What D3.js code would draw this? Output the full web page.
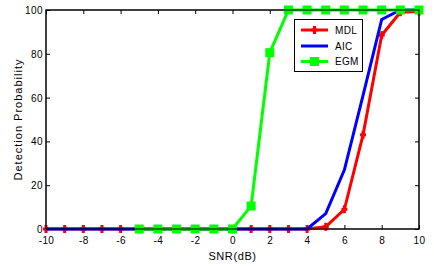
<!DOCTYPE html>
<html><head><meta charset="utf-8">
<script src="https://cdn.jsdelivr.net/npm/d3@7"></script>
<style>html,body{margin:0;padding:0;background:#fff;}svg{display:block;}</style>
</head><body>
<script>
const snr = [-10,-9,-8,-7,-6,-5,-4,-3,-2,-1,0,1,2,3,4,5,6,7,8,9,10];
const mdl = [0,0,0,0,0,0,0,0,0,0,0,0,0,0,0,1,9,43,88.5,99,99.3];
const aic = [0,0,0,0,0,0,0,0,0,0,0,0,0,0,0,7,27,61,95.7,100,100];
const egmSnr = [-5,-4,-3,-2,-1,0,1,2,3,4,5,6,7,8,9,10];
const egm = [0,0,0,0,0,0,10.5,80.5,100,100,100,100,100,100,100,100];
const xTicks = [-10,-8,-6,-4,-2,0,2,4,6,8,10];
const yTicks = [0,20,40,60,80,100];
const seriesNames = ["MDL","AIC","EGM"];
const colors = ["#ff0000","#0000ff","#00ff00"];

const W=434,H=266, L=46, T=10, R=419, B=229;
const svg=d3.select("body").append("svg").attr("width",W).attr("height",H);
const x=d3.scaleLinear().domain([-10,10]).range([L,R]);
const y=d3.scaleLinear().domain([0,100]).range([B,T]);
const font="Liberation Sans, Arial, sans-serif";
const fmt=d=>String(d);

svg.append("rect").attr("x",L).attr("y",T).attr("width",R-L).attr("height",B-T)
  .attr("fill","#fff").attr("stroke","#000").attr("stroke-width",1);

const tl=4;
const gb=svg.append("g").attr("transform",`translate(0,${B})`)
  .call(d3.axisBottom(x).tickValues(xTicks).tickFormat(fmt).tickSizeInner(-tl).tickSizeOuter(0).tickPadding(6));
const gt=svg.append("g").attr("transform",`translate(0,${T})`)
  .call(d3.axisTop(x).tickValues(xTicks).tickSizeInner(-tl).tickSizeOuter(0).tickFormat(""));
const gl=svg.append("g").attr("transform",`translate(${L},0)`)
  .call(d3.axisLeft(y).tickValues(yTicks).tickFormat(fmt).tickSizeInner(-tl).tickSizeOuter(0).tickPadding(3));
const gr=svg.append("g").attr("transform",`translate(${R},0)`)
  .call(d3.axisRight(y).tickValues(yTicks).tickSizeInner(-tl).tickSizeOuter(0).tickFormat(""));
[gb,gt,gl,gr].forEach(g=>{g.select(".domain").remove();
  g.selectAll("line").attr("stroke","#000");
  g.selectAll("text").attr("font-family",font).attr("font-size",10).attr("letter-spacing",0.4).attr("fill","#000");});
gb.selectAll("text").attr("dy","0.9em");
gl.selectAll("text").attr("dy","0.35em");

const line=d3.line().x(d=>x(d[0])).y(d=>y(d[1]));
const mdlPts=snr.map((s,i)=>[s,mdl[i]]);
const aicPts=snr.map((s,i)=>[s,aic[i]]);
const egmPts=egmSnr.map((s,i)=>[s,egm[i]]);

const plot=svg.append("g");
plot.append("path").attr("d",line(mdlPts)).attr("fill","none").attr("stroke",colors[0]).attr("stroke-width",3);
const plus=(g,cx,cy,c)=>{
  g.append("line").attr("x1",cx).attr("x2",cx).attr("y1",cy-4).attr("y2",cy+4).attr("stroke",c).attr("stroke-width",3);
  g.append("line").attr("x1",cx-3).attr("x2",cx+3).attr("y1",cy).attr("y2",cy).attr("stroke",c).attr("stroke-width",3);
};
mdlPts.forEach(p=>plus(plot,x(p[0]),y(p[1]),colors[0]));
plot.append("path").attr("d",line(aicPts)).attr("fill","none").attr("stroke",colors[1]).attr("stroke-width",3);
plot.append("path").attr("d",line(egmPts)).attr("fill","none").attr("stroke",colors[2]).attr("stroke-width",3);
plot.selectAll("rect.sq").data(egmPts).join("rect").attr("class","sq")
  .attr("x",d=>x(d[0])-4.5).attr("y",d=>y(d[1])-4.5).attr("width",9).attr("height",9).attr("fill",colors[2]);

svg.append("rect").attr("x",L).attr("y",T).attr("width",R-L).attr("height",B-T)
  .attr("fill","none").attr("stroke","#000").attr("stroke-width",1);

const lg=svg.append("g");
lg.append("rect").attr("x",294.5).attr("y",19.5).attr("width",68).attr("height",52).attr("fill","#fff").attr("stroke","#000");
const ly=[30,46,61.5];
seriesNames.forEach((n,i)=>{
  lg.append("line").attr("x1",301).attr("x2",328).attr("y1",ly[i]).attr("y2",ly[i]).attr("stroke",colors[i]).attr("stroke-width",3);
  if(i===0) plus(lg,314.5,ly[i],colors[0]);
  if(i===2) lg.append("rect").attr("x",310).attr("y",ly[i]-4.5).attr("width",9).attr("height",9).attr("fill",colors[2]);
  lg.append("text").attr("x",335).attr("y",ly[i]).attr("dy","0.35em").attr("font-family",font).attr("font-size",10).attr("letter-spacing",0.3).text(n);
});

svg.append("text").attr("x",(L+R)/2).attr("y",259.5).attr("text-anchor","middle")
  .attr("font-family",font).attr("font-size",11).attr("letter-spacing",0.6).text("SNR(dB)");
svg.append("text").attr("transform",`translate(22,${(T+B)/2}) rotate(-90)`).attr("text-anchor","middle")
  .attr("font-family",font).attr("font-size",11).attr("letter-spacing",1).text("Detection Probability");
</script>
</body></html>
